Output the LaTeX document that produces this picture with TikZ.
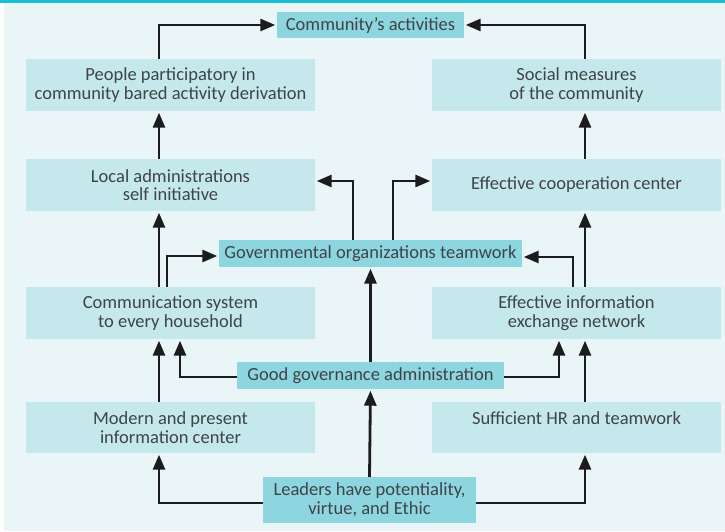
\documentclass[tikz,border=0pt]{standalone}
\usepackage{fontspec}
\setmainfont{Carlito}
\usetikzlibrary{arrows.meta}
\definecolor{pagebg}{HTML}{EAF5F7}
\definecolor{topbar}{HTML}{17BFD0}
\definecolor{lightbox}{HTML}{C5E8EC}
\definecolor{darkbox}{HTML}{8DD5DF}
\definecolor{inktext}{HTML}{3E4448}
\definecolor{ink}{HTML}{1C1C1E}
\tikzset{
  box/.style={fill=lightbox, draw=none, inner sep=0pt, align=center,
    text=inktext, font=\fontsize{18.5}{18.5}\selectfont},
  sidebox/.style={box, minimum width=289pt, minimum height=52pt},
  keybox/.style={box, fill=darkbox},
  arr/.style={draw=ink, line width=2.8pt, line join=miter,
    -{Triangle[length=15pt,width=12pt]}, shorten >=1.5pt}
}
\begin{document}
\begin{tikzpicture}[x=1pt, y=-1pt]
  \useasboundingbox (0,0) rectangle (725,532);
  \fill[pagebg] (4,3) rectangle (725,531);
  \fill[topbar] (0,0) rectangle (725,3.5);

  % central column
  \node[keybox, minimum width=187pt, minimum height=26pt] (comm) at (370.5,25) {Community’s activities};
  \node[keybox, minimum width=303pt, minimum height=27pt] (gov) at (370.5,253.5) {Governmental organizations teamwork};
  \node[keybox, minimum width=267pt, minimum height=27pt] (good) at (370.5,375.5) {Good governance administration};
  \node[keybox, minimum width=213pt, minimum height=46pt] (lead) at (369.5,500) {Leaders have potentiality,\\virtue, and Ethic};

  % left column
  \node[sidebox] (people) at (170.5,85) {People participatory in\\community bared activity derivation};
  \node[sidebox] (local) at (170.5,185) {Local administrations\\self initiative};
  \node[sidebox] (commsys) at (170.5,313) {Communication system\\to every household};
  \node[sidebox, minimum height=51pt] (modern) at (170.5,427.5) {Modern and present\\information center};

  % right column
  \node[sidebox] (social) at (576.5,85) {Social measures\\of the community};
  \node[sidebox] (coop) at (576.5,185) {Effective cooperation center};
  \node[sidebox] (info) at (576.5,313) {Effective information\\exchange network};
  \node[sidebox, minimum height=51pt] (suff) at (576.5,427.5) {Sufficient HR and teamwork\\\mbox{}};

  % main upward chains
  \draw[arr] ([xshift=-11.5pt]people.north) |- (comm.west);
  \draw[arr] ([xshift=8.5pt]social.north) |- (comm.east);
  \draw[arr] ([xshift=-11.5pt]local.north) -- ([xshift=-11.5pt]people.south);
  \draw[arr] ([xshift=8.5pt]coop.north) -- ([xshift=8.5pt]social.south);
  \draw[arr] ([xshift=-11.5pt]commsys.north) -- ([xshift=-11.5pt]local.south);
  \draw[arr] ([xshift=8.5pt]info.north) -- ([xshift=8.5pt]coop.south);
  \draw[arr] ([xshift=-11.5pt]modern.north) -- ([xshift=-11.5pt]commsys.south);
  \draw[arr] ([xshift=8.5pt]suff.north) -- ([xshift=8.5pt]info.south);

  % leaders
  \draw[arr] ([yshift=-3pt]lead.west) -| ([xshift=-11.5pt]modern.south);
  \draw[arr] ([yshift=-3pt]lead.east) -| ([xshift=8.5pt]suff.south);
  \draw[arr] (lead.north) -- (good.south);

  % good governance
  \draw[arr] ([yshift=-1.5pt]good.west) -| ([xshift=9.5pt]commsys.south);
  \draw[arr] ([yshift=-1.5pt]good.east) -| ([xshift=-17.5pt]info.south);
  \draw[arr] (good.north) -- (gov.south);

  % governmental teamwork
  \draw[arr] ([xshift=-3.5pt]commsys.north) |- ([yshift=-2.5pt]gov.west);
  \draw[arr] ([xshift=-3.5pt]info.north) |- ([yshift=-3.5pt]gov.east);
  \draw[arr] ([xshift=-17.5pt]gov.north) |- ([yshift=4pt]local.east);
  \draw[arr] ([xshift=22.5pt]gov.north) |- ([yshift=4pt]coop.west);
\end{tikzpicture}
\end{document}
